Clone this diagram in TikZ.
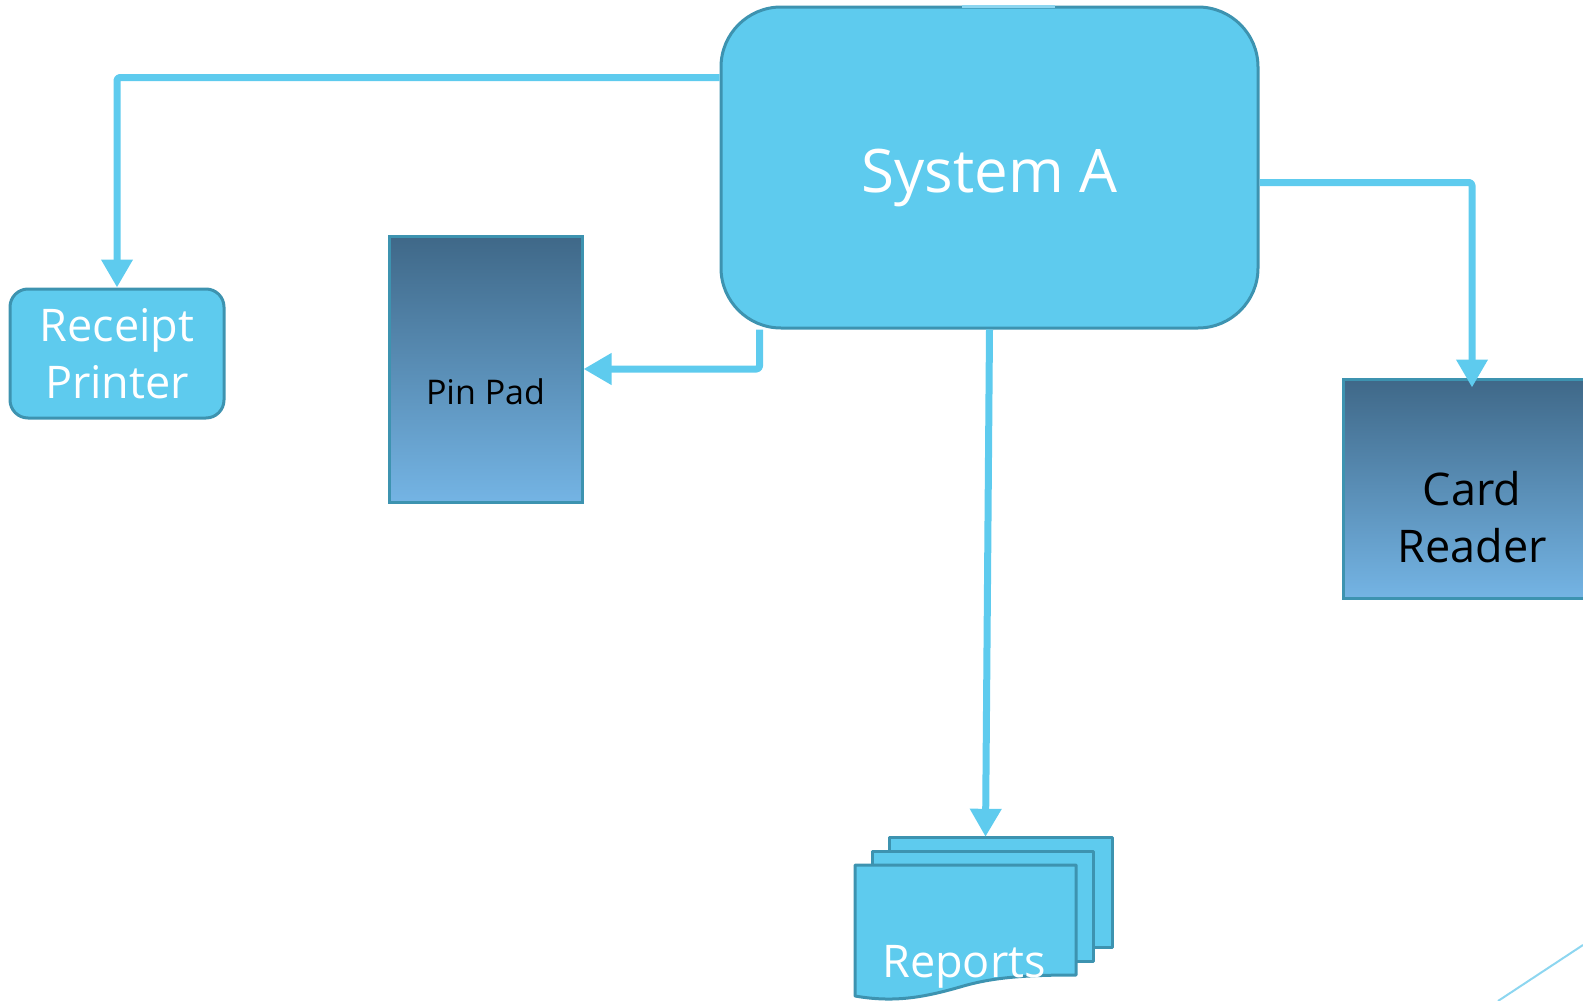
\documentclass[tikz,border=0pt]{standalone}
\usepackage{fontspec}
\setmainfont{Open Sans}
\usetikzlibrary{arrows.meta,positioning,calc}
\definecolor{skyfill}{RGB}{94,203,238}
\definecolor{tealedge}{RGB}{61,147,176}
\definecolor{gradtop}{RGB}{63,104,136}
\definecolor{gradbot}{RGB}{116,180,228}
\definecolor{faintline}{RGB}{141,214,240}

\begin{document}
\begin{tikzpicture}[
    x=1pt, y=-1pt,
    box/.style={rectangle, draw=tealedge, fill=skyfill, line width=3pt, inner sep=0pt},
    device/.style={rectangle, draw=tealedge, line width=3pt, top color=gradtop, bottom color=gradbot, inner sep=0pt},
    lighttext/.style={text=white, align=center, inner sep=0pt},
    darktext/.style={text=black, align=center, inner sep=0pt},
    sheet/.style={draw=tealedge, fill=skyfill, line width=3pt, line join=round},
    link/.style={-{Triangle[length=28pt,width=30pt]}, line width=7pt, skyfill, line join=round, rounded corners=3pt}
]
    \useasboundingbox (0,0) rectangle (1583,1001);

    % Boxes
    \node[box, rounded corners=60pt, minimum width=537pt, minimum height=321pt] (sysA) at (989.5,167.5) {};
    \node[lighttext, font=\fontsize{60}{70}\selectfont] (sysAtext) at ([yshift=-10pt]sysA.center) {System A};
    \node[box, rounded corners=18pt, minimum width=214pt, minimum height=129pt,
          lighttext, font=\fontsize{45}{57}\selectfont] (receipt) at (117,353.5) {Receipt\\Printer};
    \node[device, minimum width=193pt, minimum height=266pt] (pinpad) at (485.5,369) {};
    \node[darktext, font=\fontsize{34}{40}\selectfont] (pintext) at ([yshift=-23pt]pinpad.center) {Pin Pad};
    \node[device, minimum width=258pt, minimum height=219pt] (card) at (1472,488.5) {};
    \node[darktext, font=\fontsize{45}{57}\selectfont] (cardtext) at ([yshift=-29pt]card.center) {Card\\Reader};

    % Reports stack
    \draw[sheet] (889,837) rectangle (1112,947);
    \draw[sheet] (872,851) rectangle (1093,961);
    \draw[sheet] (855,865) -- (1076,865) -- (1076,975)
        .. controls (1020,975) and (990,978) .. (960,987)
        .. controls (925,997) and (895,1003) .. (855,996) -- cycle;
    \node[inner sep=0pt, minimum width=223pt, minimum height=110pt] (stack) at (1000.5,892) {};
    \node[text=white, font=\fontsize{45}{54}\selectfont, anchor=base] (reports) at (964,977) {Reports};

    % Links
    \draw[link] ([yshift=-72pt]sysA.north west) -| (receipt.north);
    \draw[link] ([xshift=40pt]sysA.south west) |- (pinpad.east);
    \draw[link, shorten >=-10pt] ([yshift=-15pt]sysA.east) -| (card.north);
    \draw[link] (sysA.south) -- ([xshift=-15pt]stack.north);

    % faint leftovers
    \draw[faintline, line width=3pt] ([xshift=242pt,yshift=-1pt]sysA.north west) -- ([xshift=335pt,yshift=-1pt]sysA.north west);
    \coordinate (edge) at (1583,945);
    \draw[faintline, line width=2pt] (edge) -- (1498,1001);
\end{tikzpicture}
\end{document}
